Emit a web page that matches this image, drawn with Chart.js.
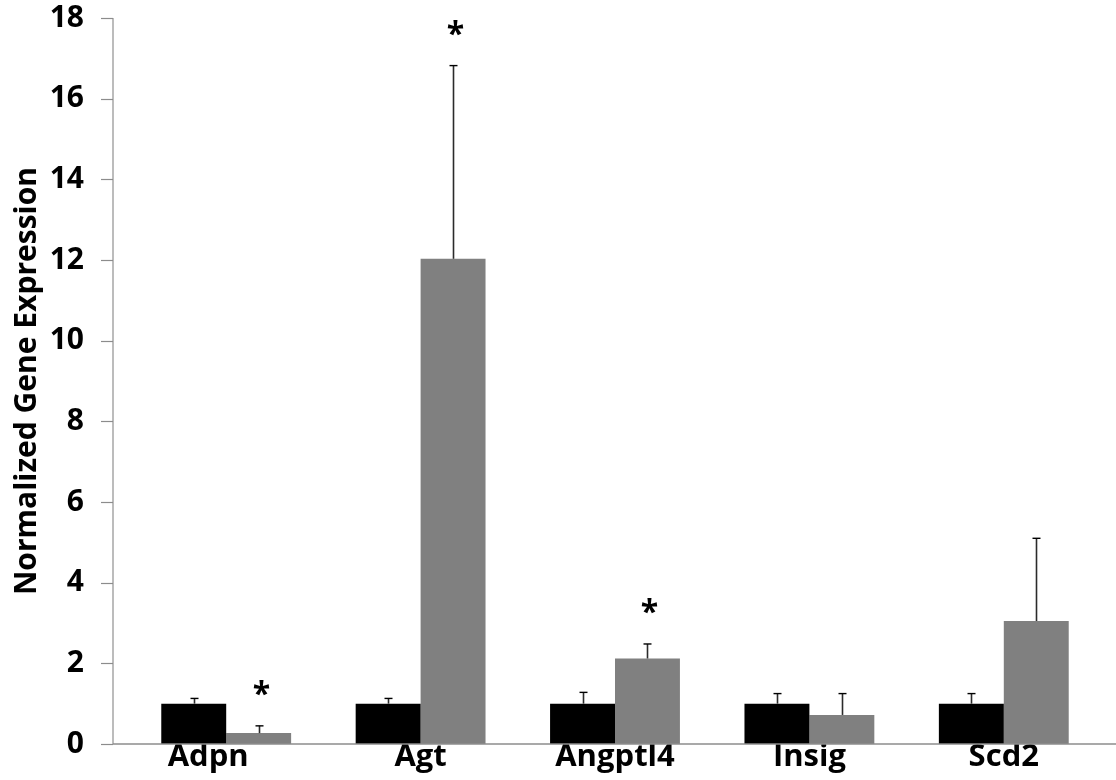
<!DOCTYPE html>
<html>
<head>
<meta charset="utf-8">
<script src="https://cdn.jsdelivr.net/npm/chart.js@4.4.1/dist/chart.umd.min.js"></script>
<style>
  html, body { margin: 0; padding: 0; background: #ffffff; }
  #wrap { width: 1116px; height: 780px; position: relative; }
</style>
</head>
<body>
<div id="wrap"><canvas id="c" width="1116" height="780"></canvas></div>
<script>
const categories = ['Adpn', 'Agt', 'Angptl4', 'Insig', 'Scd2'];
const controlValues = [1.0, 1.0, 1.0, 1.0, 1.0];
const controlErrors = [0.13, 0.13, 0.28, 0.25, 0.25];
const treatedValues = [0.27, 12.03, 2.12, 0.72, 3.05];
const treatedErrors = [0.18, 4.79, 0.36, 0.53, 2.05];
const treatedSignificant = [true, true, true, false, false];
const yTicks = [0, 2, 4, 6, 8, 10, 12, 14, 16, 18];
const yTitle = 'Normalized Gene Expression';

const FONT = "'Open Sans', 'DejaVu Sans', sans-serif";
const errorSets = [controlErrors, treatedErrors];
const valueSets = [controlValues, treatedValues];

const axesPlugin = {
  id: 'axesPlugin',
  afterDatasetsDraw(chart) {
    const ctx = chart.ctx;
    const y = chart.scales.y;
    const area = chart.chartArea;
    const axisX = area.left - 16;
    ctx.save();
    // y axis line
    ctx.strokeStyle = '#a6a6a6';
    ctx.lineWidth = 1.5;
    ctx.beginPath();
    ctx.moveTo(axisX, y.getPixelForValue(yTicks[yTicks.length - 1]));
    ctx.lineTo(axisX, y.getPixelForValue(0));
    ctx.stroke();
    // tick marks
    ctx.strokeStyle = '#8c8c8c';
    ctx.lineWidth = 1.2;
    yTicks.forEach(v => {
      const py = Math.round(y.getPixelForValue(v)) + 0.5;
      ctx.beginPath();
      ctx.moveTo(axisX - 12, py);
      ctx.lineTo(axisX, py);
      ctx.stroke();
    });
    // x axis line
    ctx.strokeStyle = '#8c8c8c';
    ctx.lineWidth = 1.5;
    const py0 = y.getPixelForValue(0);
    ctx.beginPath();
    ctx.moveTo(axisX, py0);
    ctx.lineTo(chart.width, py0);
    ctx.stroke();

    // error bars
    chart.data.datasets.forEach((ds, di) => {
      const meta = chart.getDatasetMeta(di);
      meta.data.forEach((bar, i) => {
        const top = y.getPixelForValue(valueSets[di][i] + errorSets[di][i]);
        const base = y.getPixelForValue(valueSets[di][i]);
        const bx = Math.round(bar.x) + 0.5;
        ctx.strokeStyle = '#2b2b2b';
        ctx.lineWidth = 1.6;
        ctx.beginPath();
        ctx.moveTo(bx, base);
        ctx.lineTo(bx, top);
        ctx.stroke();
        ctx.strokeStyle = '#000000';
        ctx.lineWidth = 1.4;
        ctx.beginPath();
        ctx.moveTo(bx - 4, top);
        ctx.lineTo(bx + 4, top);
        ctx.stroke();
        if (di === 1 && treatedSignificant[i]) {
          ctx.fillStyle = '#000000';
          ctx.font = 'bold 32px ' + FONT;
          ctx.textAlign = 'center';
          ctx.textBaseline = 'alphabetic';
          ctx.fillText('*', bx + 2, top - 39 + 18);
        }
      });
    });
    ctx.restore();
  }
};

new Chart(document.getElementById('c'), {
  type: 'bar',
  data: {
    labels: categories,
    datasets: [
      { label: 'Control', data: controlValues, backgroundColor: '#000000', borderWidth: 0 },
      { label: 'Treated', data: treatedValues, backgroundColor: '#808080', borderWidth: 0 }
    ]
  },
  options: {
    responsive: false,
    animation: false,
    devicePixelRatio: 1,
    layout: { padding: { left: 0, right: 15, top: 18, bottom: 0 } },
    plugins: { legend: { display: false }, tooltip: { enabled: false } },
    datasets: { bar: { categoryPercentage: 0.668, barPercentage: 1.0 } },
    scales: {
      x: {
        afterFit(scale) { scale.height = 36; scale.paddingLeft = 0; scale.paddingRight = 0; },
        grid: { display: false, drawTicks: false },
        border: { display: false },
        ticks: {
          color: '#000000', font: { family: FONT, size: 31, weight: 'bold' }, padding: -5, maxRotation: 0, autoSkip: false,
          callback(value, index) {
            const label = categories[index];
            return index === 0 ? label + '\u2002\u2002\u2009' : label;
          }
        }
      },
      y: {
        min: 0, max: 18,
        afterFit(scale) { scale.width = 129; scale.paddingTop = 0; scale.paddingBottom = 0; },
        afterBuildTicks(scale) { scale.ticks = yTicks.map(v => ({ value: v })); },
        grid: { display: false, drawTicks: false },
        border: { display: false },
        ticks: { color: '#000000', font: { family: FONT, size: 30, weight: 'bold' }, padding: 45 },
        title: { display: true, text: yTitle, color: '#000000', font: { family: FONT, size: 30, weight: 'bold' }, padding: { top: 9, bottom: 0 } }
      }
    }
  },
  plugins: [axesPlugin]
});
</script>
</body>
</html>
